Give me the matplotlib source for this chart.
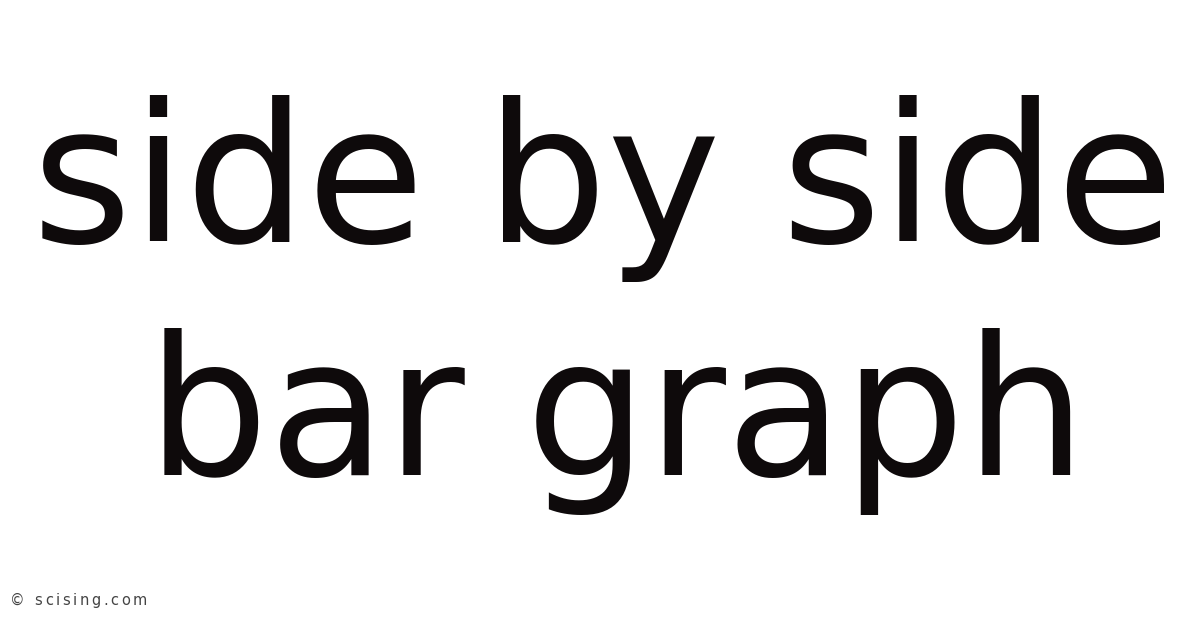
import matplotlib
matplotlib.use('Agg')
import matplotlib.pyplot as plt
from matplotlib.font_manager import FontProperties

lines = ['side by side', 'bar graph']
centers_px = [603, 617]
baselines_px = [242, 475]
credit = '\u00a9 scising.com'

W, H = 1200, 628
fig = plt.figure(figsize=(12, 6.28), dpi=100)
fig.patch.set_facecolor('white')

for txt, xc, yb in zip(lines, centers_px, baselines_px):
    fig.text(xc / W, 1 - yb / H, txt, ha='center', va='baseline',
             fontsize=138, color='#0e0a0b', family='DejaVu Sans')

# small credit line, letter-spaced
renderer = fig.canvas.get_renderer()
prop = FontProperties(family='DejaVu Sans', size=10.5)
def adv(s):
    w1 = renderer.get_text_width_height_descent(s + 'l', prop, ismath=False)[0]
    w0 = renderer.get_text_width_height_descent('l', prop, ismath=False)[0]
    return w1 - w0

spacing = 2.6
x0, yb = 10, 605
for i, ch in enumerate(credit):
    x = x0 + adv(credit[:i]) + i * spacing
    fig.text(x / W, 1 - yb / H, ch, ha='left', va='baseline',
             fontproperties=prop, color='#444444')

fig.savefig('out.png', dpi=100, facecolor='white')
